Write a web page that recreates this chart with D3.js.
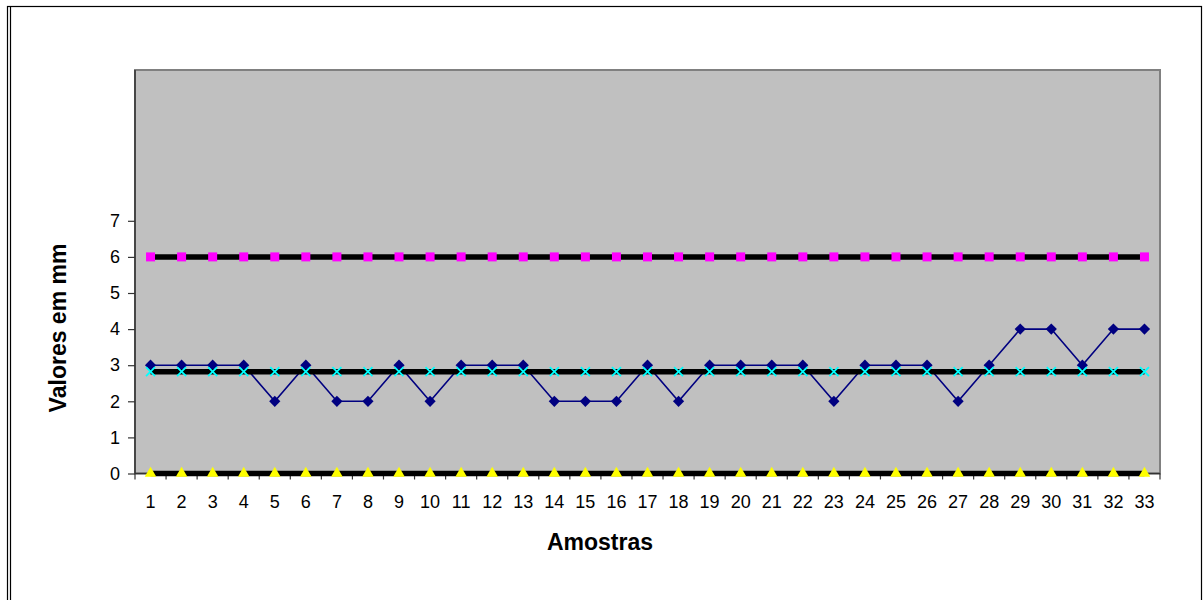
<!DOCTYPE html>
<html>
<head>
<meta charset="utf-8">
<script src="https://cdn.jsdelivr.net/npm/d3@7"></script>
<style>
  html, body { margin: 0; padding: 0; background: #fff; }
  svg { display: block; font-family: Arial, "Liberation Sans", sans-serif; }
</style>
</head>
<body>
<svg id="chart" width="1204" height="600"></svg>
<script>
// Amostras (eixo das categorias)
const amostras = [1,2,3,4,5,6,7,8,9,10,11,12,13,14,15,16,17,18,19,20,21,22,23,24,25,26,27,28,29,30,31,32,33];

// Valores medidos em mm
const medidas = [3,3,3,3,2,3,2,2,3,2,3,3,3,2,2,2,3,2,3,3,3,3,2,3,3,3,2,3,4,4,3,4,4];

// Linha média
const media = [2.82,2.82,2.82,2.82,2.82,2.82,2.82,2.82,2.82,2.82,2.82,2.82,2.82,2.82,2.82,2.82,2.82,
               2.82,2.82,2.82,2.82,2.82,2.82,2.82,2.82,2.82,2.82,2.82,2.82,2.82,2.82,2.82,2.82];

// Limite superior
const limiteSuperior = [6,6,6,6,6,6,6,6,6,6,6,6,6,6,6,6,6,6,6,6,6,6,6,6,6,6,6,6,6,6,6,6,6];

// Limite inferior
const limiteInferior = [0,0,0,0,0,0,0,0,0,0,0,0,0,0,0,0,0,0,0,0,0,0,0,0,0,0,0,0,0,0,0,0,0];

// Marcas do eixo vertical
const yTicks = [0,1,2,3,4,5,6,7];

const svg = d3.select("#chart");

// Moldura externa
svg.append("rect")
  .attr("x", 7.5).attr("y", 6.5)
  .attr("width", 1194).attr("height", 620)
  .attr("fill", "none").attr("stroke", "#000").attr("stroke-width", 1.2);
svg.append("line")
  .attr("x1", 10.5).attr("x2", 10.5).attr("y1", 7).attr("y2", 600)
  .attr("stroke", "#000").attr("stroke-width", 1.2);

// Área de plotagem
const plot = { left: 135, right: 1160, top: 70, bottom: 473.5 };

const x = d3.scaleBand().domain(amostras).range([plot.left, plot.right]).padding(0);
const y = d3.scaleLinear().domain([0, 7]).range([473.5, 220.8]);
const cx = d => x(d) + x.bandwidth() / 2;

svg.append("rect")
  .attr("x", plot.left).attr("y", plot.top)
  .attr("width", plot.right - plot.left).attr("height", plot.bottom - plot.top)
  .attr("fill", "#C0C0C0").attr("stroke", "#808080").attr("stroke-width", 2);

// Eixo Y
const yAxis = svg.append("g")
  .attr("transform", `translate(${plot.left},0)`)
  .call(d3.axisLeft(y).tickValues(yTicks).tickSize(7).tickPadding(8).tickFormat(d3.format("d")));
yAxis.select(".domain").attr("d", `M0,${plot.top}V${plot.bottom}`).attr("stroke", "#333").attr("stroke-width", 1.5);
yAxis.selectAll(".tick line").attr("stroke", "#333").attr("stroke-width", 1.2);
yAxis.selectAll(".tick text").attr("font-size", 18).attr("fill", "#000")
  .attr("font-family", "Arial, 'Liberation Sans', sans-serif");

// Eixo X: marcas nas divisões entre categorias
const xAxis = svg.append("g").attr("transform", `translate(0,${plot.bottom})`);
xAxis.append("line")
  .attr("x1", plot.left).attr("x2", plot.right).attr("y1", 0).attr("y2", 0)
  .attr("stroke", "#333").attr("stroke-width", 1.5);
const bounds = amostras.map(d => x(d)).concat([x(amostras[amostras.length - 1]) + x.bandwidth()]);
xAxis.selectAll("line.tk").data(bounds).join("line")
  .attr("class", "tk")
  .attr("x1", d => d).attr("x2", d => d).attr("y1", 0).attr("y2", 6)
  .attr("stroke", "#333").attr("stroke-width", 1.2);
xAxis.selectAll("text").data(amostras).join("text")
  .attr("x", d => cx(d)).attr("y", 34)
  .attr("text-anchor", "middle").attr("font-size", 18).attr("fill", "#000")
  .text(d => d);

// Títulos dos eixos
svg.append("text")
  .attr("x", 600).attr("y", 550)
  .attr("text-anchor", "middle").attr("font-size", 23).attr("font-weight", "bold")
  .text("Amostras");
svg.append("text")
  .attr("transform", "translate(66,328) rotate(-90)")
  .attr("text-anchor", "middle").attr("font-size", 23).attr("font-weight", "bold")
  .text("Valores em mm");

const line = d3.line().x((d, i) => cx(amostras[i])).y(d => y(d));
const series = svg.append("g");

// Série medida: losangos azul-marinho
series.append("path").datum(medidas)
  .attr("d", line).attr("fill", "none").attr("stroke", "#000080").attr("stroke-width", 1.6);
series.selectAll("path.dia").data(medidas).join("path")
  .attr("class", "dia")
  .attr("d", d3.symbol(d3.symbolDiamond2, 80))
  .attr("transform", (d, i) => `translate(${cx(amostras[i])},${y(d)})`)
  .attr("fill", "#000080");

// Linhas de referência (traço preto grosso)
[media, limiteSuperior, limiteInferior].forEach(s => {
  series.append("path").datum(s)
    .attr("d", line).attr("fill", "none").attr("stroke", "#000").attr("stroke-width", 5.5);
});

// Média: marcadores em X ciano
series.selectAll("g.cruz").data(media).join("g")
  .attr("class", "cruz")
  .attr("transform", (d, i) => `translate(${cx(amostras[i])},${y(d)})`)
  .each(function () {
    const g = d3.select(this);
    g.append("line").attr("x1", -4.5).attr("y1", -4.5).attr("x2", 4.5).attr("y2", 4.5);
    g.append("line").attr("x1", -4.5).attr("y1", 4.5).attr("x2", 4.5).attr("y2", -4.5);
  })
  .selectAll("line").attr("stroke", "#00FFFF").attr("stroke-width", 1.8);

// Limite superior: quadrados magenta
series.selectAll("rect.sq").data(limiteSuperior).join("rect")
  .attr("class", "sq")
  .attr("x", (d, i) => cx(amostras[i]) - 4.5).attr("y", d => y(d) - 4.5)
  .attr("width", 9).attr("height", 9)
  .attr("fill", "#FF00FF");

// Limite inferior: triângulos amarelos
series.selectAll("path.tri").data(limiteInferior).join("path")
  .attr("class", "tri")
  .attr("d", d3.symbol(d3.symbolTriangle, 58))
  .attr("transform", (d, i) => `translate(${cx(amostras[i])},${y(d)})`)
  .attr("fill", "#FFFF00");
</script>
</body>
</html>
